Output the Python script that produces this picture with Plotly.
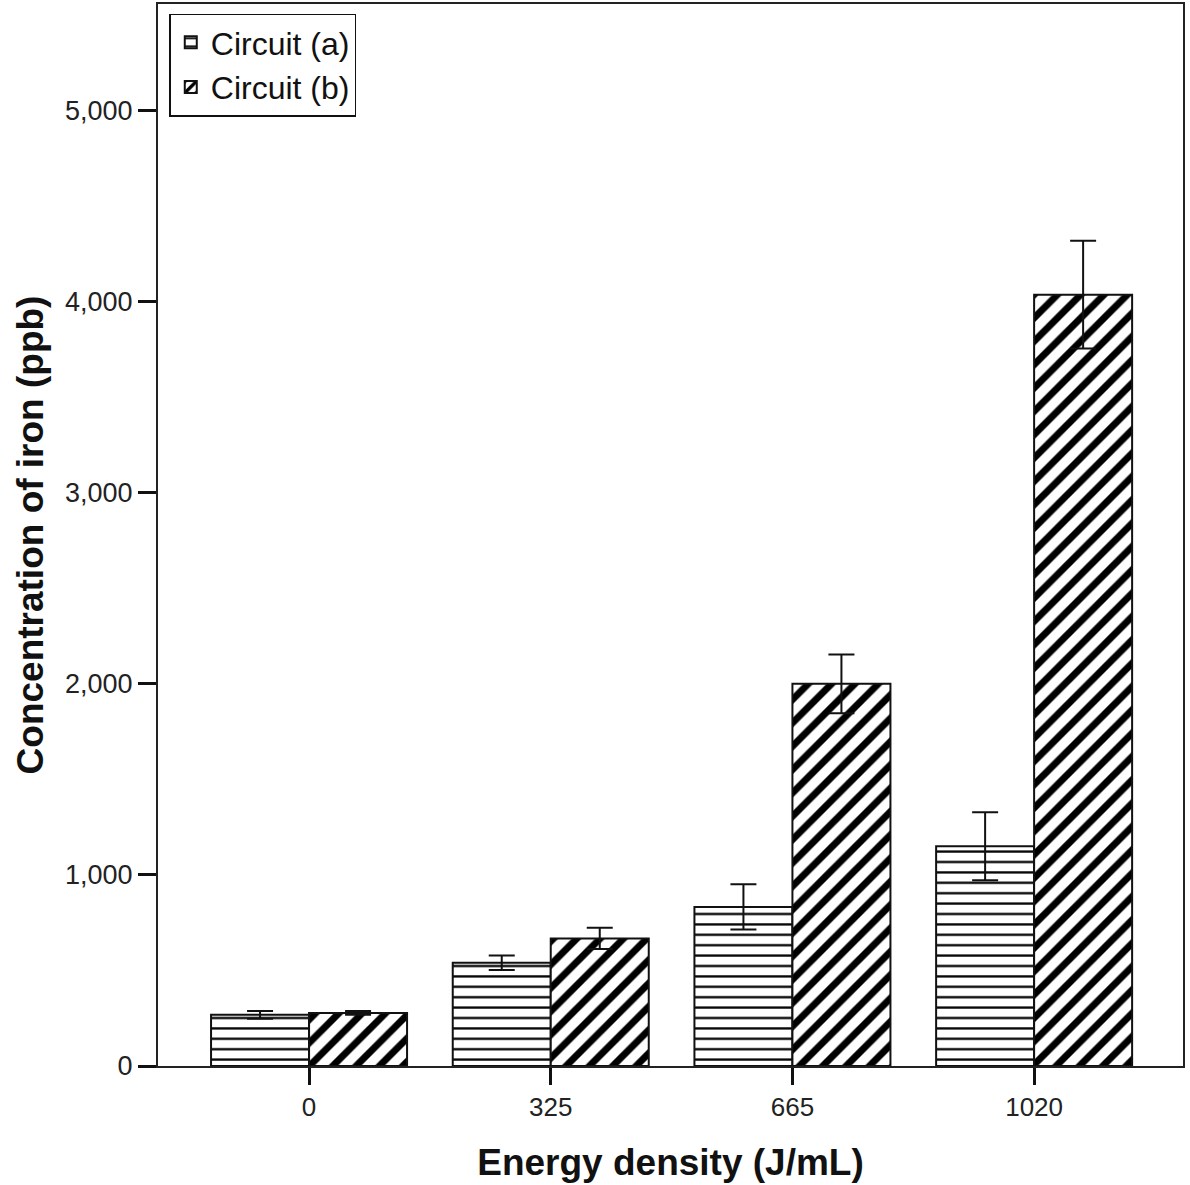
import plotly.graph_objects as go

categories = ["0", "325", "665", "1020"]
circuit_a = [268, 540, 833, 1150]
circuit_a_err = [20, 38, 118, 178]
circuit_b = [278, 668, 2001, 4038]
circuit_b_err = [10, 56, 154, 282]
y_ticks = [0, 1000, 2000, 3000, 4000, 5000]

FONT = "Liberation Sans, Arial, sans-serif"

fig = go.Figure()
fig.add_trace(go.Bar(
    name="Circuit (a)", x=categories, y=circuit_a,
    error_y=dict(type="data", array=circuit_a_err, color="#111", thickness=2, width=13),
    marker=dict(color="white", line=dict(color="#111", width=2),
                pattern=dict(shape="-", size=10.4, solidity=0.22, fgcolor="#000", bgcolor="white",
                             fgopacity=1, fillmode="overlay")),
))
fig.add_trace(go.Bar(
    name="Circuit (b)", x=categories, y=circuit_b,
    error_y=dict(type="data", array=circuit_b_err, color="#111", thickness=2, width=13),
    marker=dict(color="white", line=dict(color="#111", width=2),
                pattern=dict(shape="/", size=16.5, solidity=0.42, fgcolor="#000", bgcolor="white",
                             fgopacity=1, fillmode="overlay")),
))

fig.update_layout(
    width=1190, height=1185,
    margin=dict(l=158, r=7, t=4, b=119),
    paper_bgcolor="white", plot_bgcolor="white",
    barmode="group", bargap=0.189, bargroupgap=0,
    font=dict(family=FONT, color="#111"),
    showlegend=True,
    legend=dict(x=0.011, y=0.991, xanchor="left", yanchor="top",
                bordercolor="#111", borderwidth=1.5, bgcolor="white",
                font=dict(size=32, family=FONT), tracegroupgap=4),
    xaxis=dict(
        type="category", range=[-0.625, 3.616], automargin=False,
        showline=True, linecolor="#222", linewidth=2, mirror=True,
        ticks="outside", ticklen=17, tickwidth=3, tickcolor="#111",
        tickfont=dict(size=26, family=FONT, color="#222"),
        showgrid=False, zeroline=False,
        title=dict(text="<b>Energy density (J/mL)</b>", font=dict(size=37, family=FONT, color="#111"),
                   standoff=28),
    ),
    yaxis=dict(
        range=[0, 5560], tickvals=y_ticks, tickformat=",", automargin=False,
        showline=True, linecolor="#222", linewidth=2, mirror=True,
        ticks="outside", ticklen=18, tickwidth=3, tickcolor="#111",
        tickfont=dict(size=27, family=FONT, color="#222"),
        showgrid=False, zeroline=False,
        title=dict(text="<b>Concentration of iron (ppb)</b>", font=dict(size=37, family=FONT, color="#111"),
                   standoff=10),
    ),
)

fig.write_html("out.html", config={"displayModeBar": False},
               post_script="document.body.style.margin='0';document.body.style.overflow='hidden';")
